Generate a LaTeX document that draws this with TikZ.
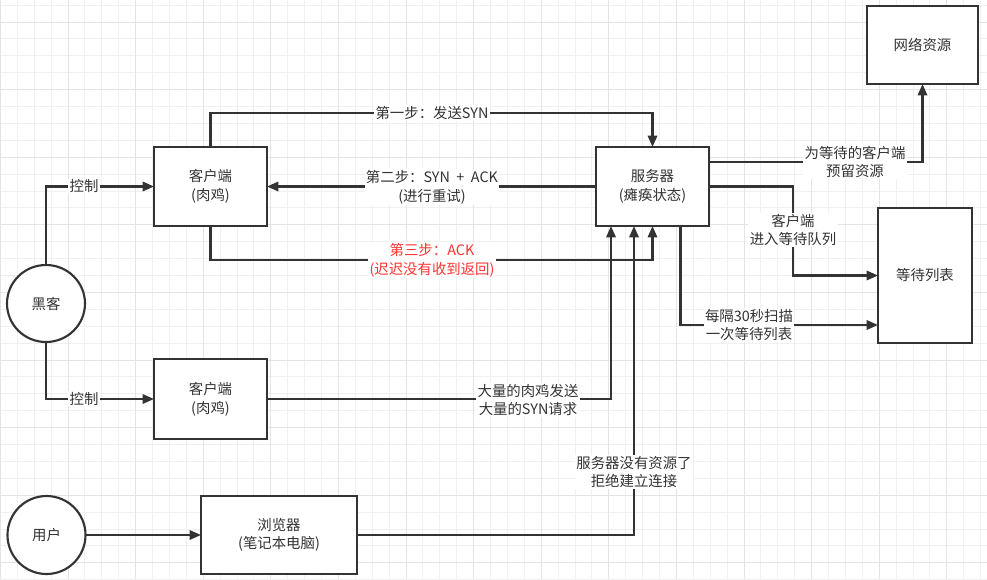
\documentclass[tikz,border=0pt]{standalone}
\usepackage{fontspec}
\setmainfont{Noto Sans CJK SC}
\usetikzlibrary{arrows.meta,shapes.geometric}
\definecolor{ink}{HTML}{333333}
\definecolor{redtxt}{HTML}{FF3333}
\definecolor{gmin}{HTML}{F0F0F0}
\definecolor{gmaj}{HTML}{E4E4E4}
\tikzset{
  gminor/.style={gmin, line width=0.75pt},
  gmajor/.style={gmaj, line width=0.75pt},
  box/.style={draw=ink, line width=1.6pt, fill=white, rectangle, inner sep=0pt, outer sep=0pt, align=center, text=ink,
    font=\fontsize{10.8pt}{14pt}\selectfont},
  oval/.style={draw=ink, line width=1.6pt, fill=white, ellipse, inner sep=0pt, outer sep=0pt, align=center, text=ink,
    font=\fontsize{10.8pt}{14pt}\selectfont},
  arr/.style={draw=ink, line width=1.6pt, -{Triangle[length=8.5pt,width=7pt]}},
  lbl/.style={fill=white, inner sep=1pt, align=center, text=ink, font=\fontsize{10.8pt}{14pt}\selectfont},
}
\begin{document}
\begin{tikzpicture}[x=0.75pt,y=-0.75pt]
\useasboundingbox (0,0) rectangle (987,579);
\fill[white] (0,0) rectangle (987,579);
\begin{scope}
\clip (0,0) rectangle (987,579);
\foreach \i in {0,...,58} \draw[gminor] ({0.4+16.9*\i},0) -- ({0.4+16.9*\i},579);
\foreach \i in {0,...,34} \draw[gminor] (0,{5.1+16.9*\i}) -- (987,{5.1+16.9*\i});
\foreach \i in {0,...,14} \draw[gmajor] ({0.4+67.6*\i},0) -- ({0.4+67.6*\i},579);
\foreach \i in {0,...,8} \draw[gmajor] (0,{22+67.6*\i}) -- (987,{22+67.6*\i});
\end{scope}

% nodes
\node[box, minimum width=84.75pt, minimum height=59.25pt] (c1) at (210.5,186.5) {客户端\\(肉鸡)};
\node[box, minimum width=84.75pt, minimum height=59.25pt] (srv) at (652.5,186.5) {服务器\\(瘫痪状态)};
\node[box, minimum width=83.25pt, minimum height=58.5pt] (net) at (922.5,45) {网络资源};
\node[box, minimum width=70.5pt, minimum height=101.25pt] (wait) at (925,275.5) {等待列表};
\node[box, minimum width=84.75pt, minimum height=60pt] (c2) at (210.5,399) {客户端\\(肉鸡)};
\node[box, minimum width=117pt, minimum height=58.5pt] (br) at (279,535) {浏览器\\(笔记本电脑)};
\node[oval, minimum width=58.5pt, minimum height=57.75pt] (hk) at (46,303.5) {黑客};
\node[oval, minimum width=58.5pt, minimum height=58.5pt] (us) at (46.5,535) {用户};

% helper coordinates
\coordinate (s1) at (611,226);
\coordinate (s2) at (634,226);
\coordinate (s4) at (680.5,226);
\coordinate (e1) at (709,162);
\coordinate (q1) at (793,186.5);
\coordinate (q2) at (680.5,325);
\coordinate (w2) at (878,325);

% connectors
\draw[arr] (c1.north) -- ++(0,-34) -| (srv.north);
\draw[arr] (srv.west) -- (c1.east);
\draw[arr] (c1.south) -- ++(0,34) -| (srv.south);
\draw[arr] (c2.east) -| (s1);
\draw[arr] (br.east) -| (s2);
\draw[arr] (e1) -| (net.south);
\draw[arr] (srv.east) -- (q1) |- (wait.west);
\draw[arr] (s4) -- (q2) -- (w2);
\draw[arr] (hk.north) |- (c1.west);
\draw[arr] (hk.south) |- (c2.west);
\draw[arr] (us.east) -- (br.west);

% labels
\node[lbl] (l1) at (432,113) {第一步：发送SYN};
\node[lbl] (l2) at (432,187) {第二步：SYN\hspace{0.45em}+\hspace{0.45em}ACK\\(进行重试)};
\node[lbl, text=redtxt] (l3) at (432,260) {第三步：ACK\\(迟迟没有收到返回)};
\node[lbl] (l4) at (84,186.5) {控制};
\node[lbl] (l5) at (84,399) {控制};
\node[lbl] (l6) at (528,400) {大量的肉鸡发送\\大量的SYN请求};
\node[lbl] (l7) at (634,472) {服务器没有资源了\\拒绝建立连接};
\node[lbl] (l8) at (855,162) {为等待的客户端\\预留资源};
\node[lbl] (l9) at (793,230) {客户端\\进入等待队列};
\node[lbl] (l10) at (749,325) {每隔30秒扫描\\一次等待列表};
\end{tikzpicture}
\end{document}
